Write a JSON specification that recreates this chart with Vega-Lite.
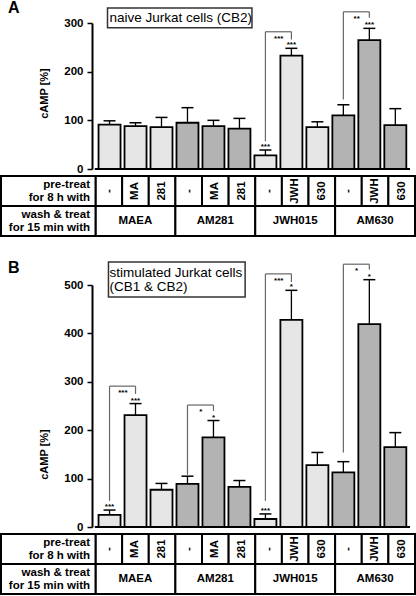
{
  "$schema": "https://vega.github.io/schema/vega-lite/v6.json",
  "padding": 0,
  "bounds": "flush",
  "spacing": 7,
  "config": {
    "view": {"stroke": null},
    "font": "Liberation Sans",
    "axis": {"grid": false, "labelColor": "black", "titleColor": "black", "domainColor": "black", "tickColor": "black"}
  },
  "datasets": {
    "barsA": [
      {"col": 0, "value": 91, "err": 99, "group": "light"},
      {"col": 1, "value": 88, "err": 95, "group": "light"},
      {"col": 2, "value": 86, "err": 106, "group": "light"},
      {"col": 3, "value": 95, "err": 126, "group": "dark"},
      {"col": 4, "value": 88, "err": 100, "group": "dark"},
      {"col": 5, "value": 83, "err": 104, "group": "dark"},
      {"col": 6, "value": 28, "err": 39, "group": "light", "sig": "***"},
      {"col": 7, "value": 233, "err": 248, "group": "light", "sig": "***"},
      {"col": 8, "value": 86, "err": 97, "group": "light"},
      {"col": 9, "value": 110, "err": 132, "group": "dark"},
      {"col": 10, "value": 265, "err": 289, "group": "dark", "sig": "***"},
      {"col": 11, "value": 90, "err": 124, "group": "dark"}
    ],
    "bracketsA": [
      {"left": 6, "right": 7, "top": 282, "leftEnd": 57, "rightEnd": 266, "label": "***"},
      {"left": 9, "right": 10, "top": 323, "leftEnd": 143, "rightEnd": 311, "label": "**"}
    ],
    "barsB": [
      {"col": 0, "value": 25, "err": 35, "group": "light", "sig": "***"},
      {"col": 1, "value": 231, "err": 255, "group": "light", "sig": "***"},
      {"col": 2, "value": 77, "err": 90, "group": "light"},
      {"col": 3, "value": 89, "err": 105, "group": "dark"},
      {"col": 4, "value": 185, "err": 220, "group": "dark", "sig": "*"},
      {"col": 5, "value": 83, "err": 96, "group": "dark"},
      {"col": 6, "value": 16.5, "err": 27, "group": "light", "sig": "***"},
      {"col": 7, "value": 428, "err": 489, "group": "light", "sig": "*"},
      {"col": 8, "value": 128, "err": 154, "group": "light"},
      {"col": 9, "value": 113, "err": 135, "group": "dark"},
      {"col": 10, "value": 419, "err": 511, "group": "dark", "sig": "*"},
      {"col": 11, "value": 165, "err": 195, "group": "dark"}
    ],
    "bracketsB": [
      {"left": 0, "right": 1, "top": 291, "leftEnd": 54, "rightEnd": 275, "label": "***"},
      {"left": 3, "right": 4, "top": 252, "leftEnd": 108, "rightEnd": 240, "label": "*"},
      {"left": 6, "right": 7, "top": 523, "leftEnd": 54, "rightEnd": 506, "label": "***"},
      {"left": 9, "right": 10, "top": 543, "leftEnd": 154, "rightEnd": 532, "label": "*"}
    ],
    "table": [
      {"row": "pre", "c0": 0, "c1": 1, "text": "-"},
      {"row": "pre", "c0": 1, "c1": 2, "text": "MA"},
      {"row": "pre", "c0": 2, "c1": 3, "text": "281"},
      {"row": "pre", "c0": 3, "c1": 4, "text": "-"},
      {"row": "pre", "c0": 4, "c1": 5, "text": "MA"},
      {"row": "pre", "c0": 5, "c1": 6, "text": "281"},
      {"row": "pre", "c0": 6, "c1": 7, "text": "-"},
      {"row": "pre", "c0": 7, "c1": 8, "text": "JWH"},
      {"row": "pre", "c0": 8, "c1": 9, "text": "630"},
      {"row": "pre", "c0": 9, "c1": 10, "text": "-"},
      {"row": "pre", "c0": 10, "c1": 11, "text": "JWH"},
      {"row": "pre", "c0": 11, "c1": 12, "text": "630"},
      {"row": "wash", "c0": 0, "c1": 3, "text": "MAEA"},
      {"row": "wash", "c0": 3, "c1": 6, "text": "AM281"},
      {"row": "wash", "c0": 6, "c1": 9, "text": "JWH015"},
      {"row": "wash", "c0": 9, "c1": 12, "text": "AM630"}
    ],
    "tableLabels": [
      {"row": "pre", "line1": "pre-treat", "line2": "for 8 h with"},
      {"row": "wash", "line1": "wash & treat", "line2": "for 15 min with"}
    ]
  },
  "vconcat": [
    {
      "width": 414,
      "height": 146,
      "layer": [
        {
          "data": {"name": "barsA"},
          "mark": {"type": "bar", "width": 22, "stroke": "black", "strokeWidth": 1.8},
          "encoding": {
            "x": {"field": "col", "type": "quantitative", "scale": {"domain": [-3.985, 11.565], "nice": false, "zero": false}, "axis": null},
            "y": {"field": "value", "type": "quantitative", "stack": null, "title": "cAMP [%]",
              "scale": {"domain": [0, 300], "nice": false},
              "axis": {"values": [0, 50, 100, 150, 200, 250, 300], "labelExpr": "datum.value % 100 === 0 ? datum.label : ''",
                "offset": -91, "tickSize": 5, "tickWidth": 1.5, "domainWidth": 2, "labelFontSize": 11.5, "labelFontWeight": "bold",
                "labelPadding": 4, "labelOverlap": false, "titleFontSize": 11, "titleFontWeight": "bold", "titleX": -42.5, "titleY": 70}},
            "color": {"field": "group", "type": "nominal", "scale": {"domain": ["light", "dark"], "range": ["#e6e6e6", "#b3b3b3"]}, "legend": null}
          }
        },
        {
          "data": {"name": "barsA"},
          "mark": {"type": "rule", "color": "black", "strokeWidth": 1.3},
          "encoding": {
            "x": {"field": "col", "type": "quantitative"},
            "y": {"field": "value", "type": "quantitative", "title": "cAMP [%]"},
            "y2": {"field": "err"}
          }
        },
        {
          "data": {"name": "barsA"},
          "mark": {"type": "tick", "orient": "horizontal", "size": 12, "thickness": 1.5, "color": "black", "opacity": 1},
          "encoding": {
            "x": {"field": "col", "type": "quantitative"},
            "y": {"field": "err", "type": "quantitative", "title": "cAMP [%]"}
          }
        },
        {
          "data": {"name": "barsA"},
          "transform": [{"filter": "datum.sig"}],
          "mark": {"type": "text", "fontSize": 8, "fontWeight": "bold", "baseline": "alphabetic", "dy": -1},
          "encoding": {
            "x": {"field": "col", "type": "quantitative"},
            "y": {"field": "err", "type": "quantitative", "title": "cAMP [%]"},
            "text": {"field": "sig"}
          }
        },
        {
          "data": {"name": "bracketsA"},
          "mark": {"type": "rule", "color": "#666666", "strokeWidth": 1.2},
          "encoding": {
            "x": {"field": "left", "type": "quantitative"},
            "x2": {"field": "right"},
            "y": {"field": "top", "type": "quantitative", "title": "cAMP [%]"}
          }
        },
        {
          "data": {"name": "bracketsA"},
          "mark": {"type": "rule", "color": "#666666", "strokeWidth": 1.2},
          "encoding": {
            "x": {"field": "left", "type": "quantitative"},
            "y": {"field": "leftEnd", "type": "quantitative", "title": "cAMP [%]"},
            "y2": {"field": "top"}
          }
        },
        {
          "data": {"name": "bracketsA"},
          "mark": {"type": "rule", "color": "#666666", "strokeWidth": 1.2},
          "encoding": {
            "x": {"field": "right", "type": "quantitative"},
            "y": {"field": "rightEnd", "type": "quantitative", "title": "cAMP [%]"},
            "y2": {"field": "top"}
          }
        },
        {
          "data": {"name": "bracketsA"},
          "mark": {"type": "text", "fontSize": 8, "fontWeight": "bold", "baseline": "alphabetic", "dy": 9, "dx": 13.3},
          "encoding": {
            "x": {"field": "left", "type": "quantitative"},
            "y": {"field": "top", "type": "quantitative", "title": "cAMP [%]"},
            "text": {"field": "label"}
          }
        },
        {
          "data": {"values": [{"panel": "A", "label": "naive Jurkat cells (CB2)"}]},
          "mark": {"type": "rect", "fill": "white", "stroke": "#333333", "strokeWidth": 1.5},
          "encoding": {
            "x": {"datum": -0.078, "type": "quantitative"},
            "x2": {"datum": 5.482},
            "y": {"datum": 290, "type": "quantitative", "title": "cAMP [%]"},
            "y2": {"datum": 331}
          }
        },
        {
          "data": {"values": [{"panel": "A", "label": "naive Jurkat cells (CB2)"}]},
          "mark": {"type": "text", "fontSize": 13.5, "align": "left", "baseline": "middle", "color": "black"},
          "encoding": {
            "x": {"datum": 0, "type": "quantitative"},
            "y": {"datum": 310, "type": "quantitative", "title": "cAMP [%]"},
            "text": {"field": "label"}
          }
        },
        {
          "data": {"values": [{"panel": "A", "label": "naive Jurkat cells (CB2)"}]},
          "mark": {"type": "text", "fontSize": 16, "fontWeight": "bold", "align": "left", "baseline": "alphabetic", "color": "black"},
          "encoding": {
            "x": {"datum": -3.91, "type": "quantitative"},
            "y": {"datum": 320.5, "type": "quantitative", "title": "cAMP [%]"},
            "text": {"field": "panel"}
          }
        },
        {
          "data": {"values": [{"panel": "A", "label": "naive Jurkat cells (CB2)"}]},
          "mark": {"type": "rule", "color": "black", "strokeWidth": 2},
          "encoding": {
            "x": {"datum": -0.567, "type": "quantitative"},
            "x2": {"datum": 11.565},
            "y": {"datum": 0, "type": "quantitative", "title": "cAMP [%]"}
          }
        }
      ]
    },
    {
      "width": 414,
      "height": 60,
      "layer": [
        {
          "data": {"name": "table"},
          "mark": {"type": "rect", "fill": "white", "stroke": "black", "strokeWidth": 2},
          "encoding": {
            "x": {"field": "c0", "type": "quantitative", "scale": {"domain": [-3.55, 12], "nice": false, "zero": false}, "axis": null},
            "x2": {"field": "c1"},
            "y": {"field": "row", "type": "nominal", "scale": {"domain": ["pre", "wash"], "paddingInner": 0, "paddingOuter": 0}, "axis": null}
          }
        },
        {
          "data": {"name": "tableLabels"},
          "mark": {"type": "rect", "fill": "white", "stroke": "black", "strokeWidth": 2},
          "encoding": {
            "x": {"datum": -3.55, "type": "quantitative"},
            "x2": {"datum": 0},
            "y": {"field": "row", "type": "nominal"}
          }
        },
        {
          "data": {"name": "tableLabels"},
          "mark": {"type": "text", "fontSize": 11.5, "fontWeight": "bold", "align": "right", "baseline": "middle", "dy": -6.5, "color": "black"},
          "encoding": {
            "x": {"datum": -0.207, "type": "quantitative"},
            "y": {"field": "row", "type": "nominal"},
            "text": {"field": "line1"}
          }
        },
        {
          "data": {"name": "tableLabels"},
          "mark": {"type": "text", "fontSize": 11.5, "fontWeight": "bold", "align": "right", "baseline": "middle", "dy": 6.5, "color": "black"},
          "encoding": {
            "x": {"datum": -0.207, "type": "quantitative"},
            "y": {"field": "row", "type": "nominal"},
            "text": {"field": "line2"}
          }
        },
        {
          "data": {"name": "table"},
          "transform": [{"filter": "datum.row === 'pre'"}],
          "mark": {"type": "text", "fontSize": 11.5, "fontWeight": "bold", "angle": 270, "align": "center", "baseline": "middle", "xOffset": 13.3, "color": "black"},
          "encoding": {
            "x": {"field": "c0", "type": "quantitative"},
            "y": {"field": "row", "type": "nominal"},
            "text": {"field": "text"}
          }
        },
        {
          "data": {"name": "table"},
          "transform": [{"filter": "datum.row === 'wash'"}],
          "mark": {"type": "text", "fontSize": 11.5, "fontWeight": "bold", "align": "center", "baseline": "middle", "xOffset": 39.9, "color": "black"},
          "encoding": {
            "x": {"field": "c0", "type": "quantitative"},
            "y": {"field": "row", "type": "nominal"},
            "text": {"field": "text"}
          }
        }
      ]
    },
    {
      "width": 414,
      "height": 35,
      "data": {"values": []},
      "mark": "point",
      "encoding": {}
    },
    {
      "width": 414,
      "height": 242,
      "layer": [
        {
          "data": {"name": "barsB"},
          "mark": {"type": "bar", "width": 22, "stroke": "black", "strokeWidth": 1.8},
          "encoding": {
            "x": {"field": "col", "type": "quantitative", "scale": {"domain": [-3.985, 11.565], "nice": false, "zero": false}, "axis": null},
            "y": {"field": "value", "type": "quantitative", "stack": null, "title": "cAMP [%]",
              "scale": {"domain": [0, 500], "nice": false},
              "axis": {"values": [0, 50, 100, 150, 200, 250, 300, 350, 400, 450, 500], "labelExpr": "datum.value % 100 === 0 ? datum.label : ''",
                "offset": -91, "tickSize": 5, "tickWidth": 1.5, "domainWidth": 2, "labelFontSize": 11.5, "labelFontWeight": "bold",
                "labelPadding": 4, "labelOverlap": false, "titleFontSize": 11, "titleFontWeight": "bold", "titleX": -42.5, "titleY": 169}},
            "color": {"field": "group", "type": "nominal", "scale": {"domain": ["light", "dark"], "range": ["#e6e6e6", "#b3b3b3"]}, "legend": null}
          }
        },
        {
          "data": {"name": "barsB"},
          "mark": {"type": "rule", "color": "black", "strokeWidth": 1.3},
          "encoding": {
            "x": {"field": "col", "type": "quantitative"},
            "y": {"field": "value", "type": "quantitative", "title": "cAMP [%]"},
            "y2": {"field": "err"}
          }
        },
        {
          "data": {"name": "barsB"},
          "mark": {"type": "tick", "orient": "horizontal", "size": 12, "thickness": 1.5, "color": "black", "opacity": 1},
          "encoding": {
            "x": {"field": "col", "type": "quantitative"},
            "y": {"field": "err", "type": "quantitative", "title": "cAMP [%]"}
          }
        },
        {
          "data": {"name": "barsB"},
          "transform": [{"filter": "datum.sig"}],
          "mark": {"type": "text", "fontSize": 8, "fontWeight": "bold", "baseline": "alphabetic", "dy": -1},
          "encoding": {
            "x": {"field": "col", "type": "quantitative"},
            "y": {"field": "err", "type": "quantitative", "title": "cAMP [%]"},
            "text": {"field": "sig"}
          }
        },
        {
          "data": {"name": "bracketsB"},
          "mark": {"type": "rule", "color": "#666666", "strokeWidth": 1.2},
          "encoding": {
            "x": {"field": "left", "type": "quantitative"},
            "x2": {"field": "right"},
            "y": {"field": "top", "type": "quantitative", "title": "cAMP [%]"}
          }
        },
        {
          "data": {"name": "bracketsB"},
          "mark": {"type": "rule", "color": "#666666", "strokeWidth": 1.2},
          "encoding": {
            "x": {"field": "left", "type": "quantitative"},
            "y": {"field": "leftEnd", "type": "quantitative", "title": "cAMP [%]"},
            "y2": {"field": "top"}
          }
        },
        {
          "data": {"name": "bracketsB"},
          "mark": {"type": "rule", "color": "#666666", "strokeWidth": 1.2},
          "encoding": {
            "x": {"field": "right", "type": "quantitative"},
            "y": {"field": "rightEnd", "type": "quantitative", "title": "cAMP [%]"},
            "y2": {"field": "top"}
          }
        },
        {
          "data": {"name": "bracketsB"},
          "mark": {"type": "text", "fontSize": 8, "fontWeight": "bold", "baseline": "alphabetic", "dy": 9, "dx": 13.3},
          "encoding": {
            "x": {"field": "left", "type": "quantitative"},
            "y": {"field": "top", "type": "quantitative", "title": "cAMP [%]"},
            "text": {"field": "label"}
          }
        },
        {
          "data": {"values": [{"panel": "B", "label": "stimulated Jurkat cells\n(CB1 & CB2)"}]},
          "mark": {"type": "rect", "fill": "white", "stroke": "#333333", "strokeWidth": 1.5},
          "encoding": {
            "x": {"datum": -0.041, "type": "quantitative"},
            "x2": {"datum": 5.219},
            "y": {"datum": 475, "type": "quantitative", "title": "cAMP [%]"},
            "y2": {"datum": 547.5}
          }
        },
        {
          "data": {"values": [{"panel": "B", "label": "stimulated Jurkat cells\n(CB1 & CB2)"}]},
          "mark": {"type": "text", "fontSize": 13.5, "align": "left", "baseline": "middle", "lineBreak": "\n", "lineHeight": 14, "dy": -7, "color": "black"},
          "encoding": {
            "x": {"datum": 0, "type": "quantitative"},
            "y": {"datum": 510, "type": "quantitative", "title": "cAMP [%]"},
            "text": {"field": "label"}
          }
        },
        {
          "data": {"values": [{"panel": "B", "label": "stimulated Jurkat cells\n(CB1 & CB2)"}]},
          "mark": {"type": "text", "fontSize": 16, "fontWeight": "bold", "align": "left", "baseline": "alphabetic", "color": "black"},
          "encoding": {
            "x": {"datum": -3.91, "type": "quantitative"},
            "y": {"datum": 525, "type": "quantitative", "title": "cAMP [%]"},
            "text": {"field": "panel"}
          }
        },
        {
          "data": {"values": [{"panel": "B", "label": "stimulated Jurkat cells\n(CB1 & CB2)"}]},
          "mark": {"type": "rule", "color": "black", "strokeWidth": 2},
          "encoding": {
            "x": {"datum": -0.567, "type": "quantitative"},
            "x2": {"datum": 11.565},
            "y": {"datum": 0, "type": "quantitative", "title": "cAMP [%]"}
          }
        }
      ]
    },
    {
      "width": 414,
      "height": 60,
      "layer": [
        {
          "data": {"name": "table"},
          "mark": {"type": "rect", "fill": "white", "stroke": "black", "strokeWidth": 2},
          "encoding": {
            "x": {"field": "c0", "type": "quantitative", "scale": {"domain": [-3.55, 12], "nice": false, "zero": false}, "axis": null},
            "x2": {"field": "c1"},
            "y": {"field": "row", "type": "nominal", "scale": {"domain": ["pre", "wash"], "paddingInner": 0, "paddingOuter": 0}, "axis": null}
          }
        },
        {
          "data": {"name": "tableLabels"},
          "mark": {"type": "rect", "fill": "white", "stroke": "black", "strokeWidth": 2},
          "encoding": {
            "x": {"datum": -3.55, "type": "quantitative"},
            "x2": {"datum": 0},
            "y": {"field": "row", "type": "nominal"}
          }
        },
        {
          "data": {"name": "tableLabels"},
          "mark": {"type": "text", "fontSize": 11.5, "fontWeight": "bold", "align": "right", "baseline": "middle", "dy": -6.5, "color": "black"},
          "encoding": {
            "x": {"datum": -0.207, "type": "quantitative"},
            "y": {"field": "row", "type": "nominal"},
            "text": {"field": "line1"}
          }
        },
        {
          "data": {"name": "tableLabels"},
          "mark": {"type": "text", "fontSize": 11.5, "fontWeight": "bold", "align": "right", "baseline": "middle", "dy": 6.5, "color": "black"},
          "encoding": {
            "x": {"datum": -0.207, "type": "quantitative"},
            "y": {"field": "row", "type": "nominal"},
            "text": {"field": "line2"}
          }
        },
        {
          "data": {"name": "table"},
          "transform": [{"filter": "datum.row === 'pre'"}],
          "mark": {"type": "text", "fontSize": 11.5, "fontWeight": "bold", "angle": 270, "align": "center", "baseline": "middle", "xOffset": 13.3, "color": "black"},
          "encoding": {
            "x": {"field": "c0", "type": "quantitative"},
            "y": {"field": "row", "type": "nominal"},
            "text": {"field": "text"}
          }
        },
        {
          "data": {"name": "table"},
          "transform": [{"filter": "datum.row === 'wash'"}],
          "mark": {"type": "text", "fontSize": 11.5, "fontWeight": "bold", "align": "center", "baseline": "middle", "xOffset": 39.9, "color": "black"},
          "encoding": {
            "x": {"field": "c0", "type": "quantitative"},
            "y": {"field": "row", "type": "nominal"},
            "text": {"field": "text"}
          }
        }
      ]
    }
  ]
}
